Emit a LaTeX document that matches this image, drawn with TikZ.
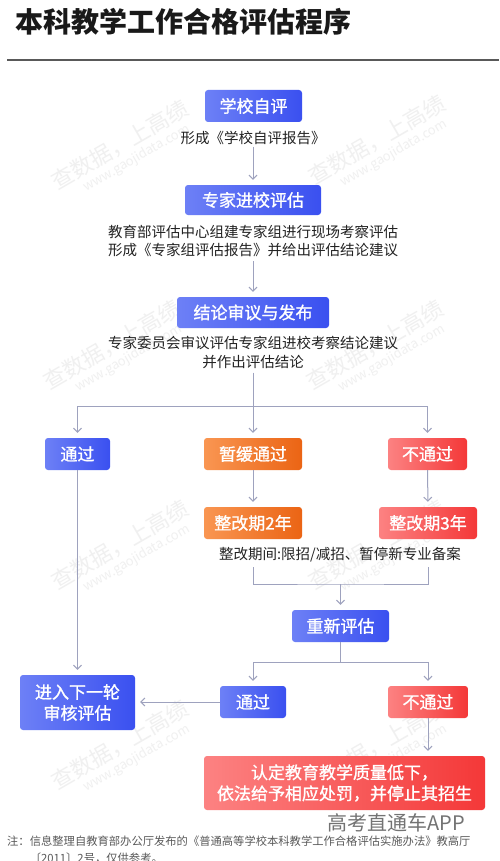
\documentclass[tikz,border=0pt]{standalone}
\usepackage{fontspec}
\setmainfont{Noto Sans CJK SC}
\newfontfamily\boxfont{Noto Sans CJK SC}[FakeBold=1.2]
\usetikzlibrary{arrows.meta}
\definecolor{blueL}{HTML}{6D80F6}
\definecolor{blueR}{HTML}{3A50F0}
\definecolor{orgL}{HTML}{F99652}
\definecolor{orgR}{HTML}{EB6414}
\definecolor{redL}{HTML}{FC8282}
\definecolor{redR}{HTML}{F43838}
\definecolor{lineC}{RGB}{158,162,190}
\definecolor{txt}{HTML}{222222}
\tikzset{
  box/.style={rounded corners=3pt, text=white, font=\boxfont\fontsize{17}{21}\selectfont,
    inner sep=0pt, minimum height=32pt, align=center},
  bluebox/.style={box, left color=blueL, right color=blueR},
  orgbox/.style={box, left color=orgL, right color=orgR},
  redbox/.style={box, left color=redL, right color=redR},
  desc/.style={font=\fontsize{14.5}{18.5}\selectfont, text=txt, align=center, inner sep=1pt},
  conn/.style={draw=lineC, line width=1pt},
  arr/.style={conn, -{Straight Barb[length=4pt,width=8pt]}, shorten >=5pt},
  wmbig/.style={text=black!6, font=\fontsize{22}{24}\selectfont, inner sep=0pt, transform shape},
  wmsmall/.style={text=black!6, font=\fontsize{13}{15}\selectfont, inner sep=0pt, transform shape},
}
\begin{document}
\begin{tikzpicture}[x=1pt,y=1pt]
\useasboundingbox (0,0) rectangle (500,-861);
\fill[white] (0,0) rectangle (500,-861);
% watermarks
\foreach \wx/\wy [count=\i] in {120/145, 377/140, 112/345, 375/345, 120/545, 377/545, 120/745, 377/745}{
  \begin{scope}[shift={(\wx,-\wy)}, rotate=30]
    \node[wmbig] (wma\i) at (0,0) {查数据，上高绩};
    \node[wmsmall] (wmb\i) at (8,-20) {www.gaojidata.com};
  \end{scope}
}
% title
\node[anchor=west, inner sep=0pt, text=black!90, font=\fontsize{28}{30}\selectfont\bfseries] (title) at (15.5,-22) {本科教学工作合格评估程序};
\draw[line width=1.5pt, draw=black!65] (7,-60) -- (499,-60);

% nodes
\node[bluebox, minimum width=97pt] (b1) at (253.5,-106) {学校自评};
\node[desc] (t1) at (253,-138) {形成《学校自评报告》};
\node[bluebox, minimum width=136pt, minimum height=30pt] (b2) at (253,-200) {专家进校评估};
\node[desc] (t2) at (253,-241) {教育部评估中心组建专家组进行现场考察评估\\形成《专家组评估报告》并给出评估结论建议};
\node[bluebox, minimum width=152pt, minimum height=31pt] (b3) at (253,-312.5) {结论审议与发布};
\node[desc] (t3) at (253,-352.5) {专家委员会审议评估专家组进校考察结论建议\\并作出评估结论};

\node[bluebox, minimum width=65pt] (pass1) at (77.5,-454) {通过};
\node[orgbox, minimum width=98pt] (defer) at (253,-454) {暂缓通过};
\node[redbox, minimum width=79pt] (fail1) at (427.5,-454) {不通过};

\node[orgbox, minimum width=98pt] (r2) at (253,-523) {整改期2年};
\node[redbox, minimum width=98pt] (r3) at (428,-523) {整改期3年};
\node[desc] (t4) at (340,-555) {整改期间:限招/减招、暂停新专业备案};

\node[bluebox, minimum width=97pt] (re) at (340.5,-626) {重新评估};
\node[bluebox, minimum width=66pt] (pass2) at (253,-702) {通过};
\node[redbox, minimum width=80pt] (fail2) at (428,-702) {不通过};
\node[bluebox, minimum width=115pt, minimum height=55pt] (next) at (77.5,-702.5) {进入下一轮\\审核评估};
\node[redbox, minimum width=281pt, minimum height=54pt] (final) at (344.5,-783) {认定教育教学质量低下，\\依法给予相应处罚，并停止其招生};

% connectors
\draw[arr, shorten <=1pt] (t1) -- (b2);
\draw[arr, shorten <=3pt] (t2) -- (b3);
\coordinate (j1) at (253,-406);
\draw[conn, shorten <=3pt] (t3) -- (j1);
\draw[arr] (j1) -- (defer);
\draw[arr] (j1) -| (pass1);
\draw[arr] (j1) -| (fail1);
\draw[arr] (pass1) -- (next);
\draw[arr] (defer) -- (r2);
\draw[arr] (fail1) -- (r3);
\coordinate (k2) at (253,-567);
\coordinate (k3) at (428,-567);
\coordinate (j2) at (340.5,-584);
\draw[conn] (k2) |- (j2) -| (k3);
\draw[arr] (j2) -- (re);
\coordinate (j3) at (340.5,-662);
\draw[conn] (re) -- (j3);
\draw[arr] (j3) -| (pass2);
\draw[arr] (j3) -| (fail2);
\draw[arr] (pass2) -- (pass2 -| next.east);
\draw[arr] (fail2) -- (fail2 |- final.north);

% footer
\node[inner sep=0pt, text=black!55, font=\fontsize{20}{22}\selectfont] (app) at (396,-823) {高考直通车APP};
\node[anchor=west, inner sep=0pt, text=black!65, font=\fontsize{11.3}{13}\selectfont] (note1) at (7,-841) {注：信息整理自教育部办公厅发布的《普通高等学校本科教学工作合格评估实施办法》教高厅};
\node[anchor=west, inner sep=0pt, text=black!65, font=\fontsize{11.3}{13}\selectfont] (note2) at (29.6,-858) {〔2011〕2号，仅供参考。};
\end{tikzpicture}
\end{document}
